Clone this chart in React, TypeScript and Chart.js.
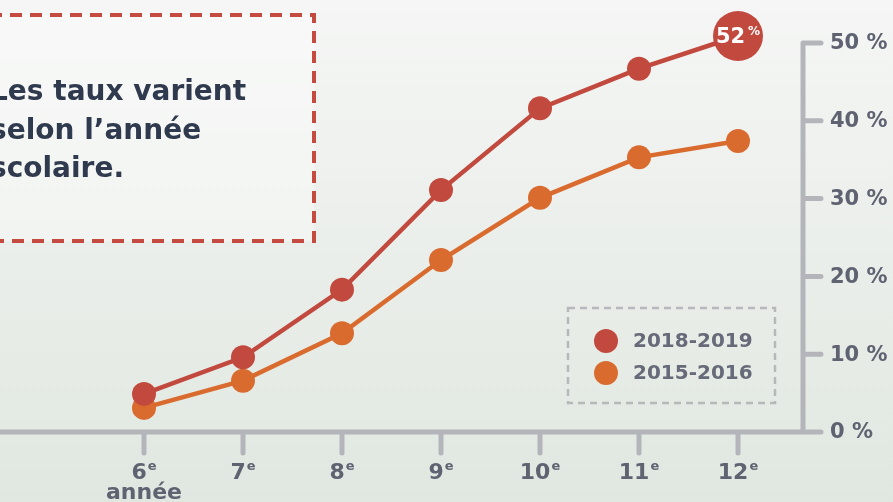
import React, { useEffect, useRef } from "react";
import { Chart, registerables } from "chart.js";

Chart.register(...registerables);

const grades = ["6", "7", "8", "9", "10", "11", "12"];
const gradeSuffix = "e";
const firstGradeNote = "année";
const series2018 = [4.9, 9.6, 18.3, 31.1, 41.6, 46.7, 50.9];
const series2015 = [3.1, 6.6, 12.7, 22.1, 30.1, 35.3, 37.4];
const seriesLabels = ["2018-2019", "2015-2016"];
const seriesColors = ["#c2493e", "#d96b2f"];
const yTicks = [0, 10, 20, 30, 40, 50];
const highlightLabel = "52";
const headline = ["Les taux varient", "selon l\u2019année", "scolaire."];

const FONT = '"DejaVu Sans", sans-serif';

const decorations = {
  id: "decorations",
  beforeDraw(chart: any) {
    const { ctx, width, height } = chart;
    ctx.save();
    const g = ctx.createLinearGradient(0, 0, 0, height);
    g.addColorStop(0, "#f5f6f5");
    g.addColorStop(1, "#e0e7e0");
    ctx.fillStyle = g;
    ctx.fillRect(0, 0, width, height);

    // callout box
    ctx.fillStyle = "rgba(255,255,255,0.35)";
    ctx.fillRect(-10, 15, 324, 226);
    ctx.strokeStyle = "#c54a3f";
    ctx.lineWidth = 4;
    ctx.setLineDash([12, 8]);
    ctx.strokeRect(-10, 15, 324, 226);
    ctx.setLineDash([]);
    ctx.fillStyle = "#2f3a4e";
    ctx.font = `bold 28px ${FONT}`;
    ctx.textAlign = "left";
    ctx.textBaseline = "alphabetic";
    headline.forEach((t, i) => ctx.fillText(t, -10, 100 + i * 38.5));

    // legend box
    ctx.strokeStyle = "#b6b8bb";
    ctx.lineWidth = 2.5;
    ctx.setLineDash([7, 5]);
    ctx.strokeRect(568, 308, 207, 95);
    ctx.setLineDash([]);
    seriesLabels.forEach((lab, i) => {
      const cy = 341 + i * 32;
      ctx.fillStyle = seriesColors[i];
      ctx.beginPath();
      ctx.arc(606, cy, 12, 0, Math.PI * 2);
      ctx.fill();
      ctx.fillStyle = "#676a78";
      ctx.font = `bold 20px ${FONT}`;
      ctx.textBaseline = "middle";
      ctx.fillText(lab, 633, cy + 1);
    });
    ctx.restore();
  },
  beforeDatasetsDraw(chart: any) {
    const { ctx } = chart;
    const xs = chart.scales.x;
    const ys = chart.scales.y;
    const y0 = ys.getPixelForValue(0);
    const axisX = xs.right + 65;
    ctx.save();
    ctx.strokeStyle = "#b4b5ba";
    ctx.lineWidth = 5;
    ctx.lineCap = "round";
    ctx.beginPath();
    ctx.moveTo(-5, y0);
    ctx.lineTo(axisX + 18, y0);
    ctx.moveTo(axisX, y0);
    ctx.lineTo(axisX, ys.getPixelForValue(50));
    yTicks.forEach((v) => {
      const py = ys.getPixelForValue(v);
      ctx.moveTo(axisX, py);
      ctx.lineTo(axisX + 18, py);
    });
    grades.forEach((_, i) => {
      const px = xs.getPixelForValue(i);
      ctx.moveTo(px, y0);
      ctx.lineTo(px, y0 + 21);
    });
    ctx.stroke();

    ctx.fillStyle = "#5f6271";
    ctx.textBaseline = "middle";
    ctx.textAlign = "left";
    ctx.font = `bold 21px ${FONT}`;
    yTicks.forEach((v) => {
      ctx.fillText(`${v} %`, axisX + 27, ys.getPixelForValue(v) + 1);
    });

    ctx.textBaseline = "alphabetic";
    grades.forEach((g, i) => {
      const px = xs.getPixelForValue(i);
      ctx.font = `bold 22px ${FONT}`;
      const w1 = ctx.measureText(g).width;
      ctx.font = `bold 13px ${FONT}`;
      const w2 = ctx.measureText(gradeSuffix).width;
      const start = px - (w1 + w2 + 1) / 2;
      ctx.font = `bold 22px ${FONT}`;
      ctx.fillText(g, start, 479);
      ctx.font = `bold 13px ${FONT}`;
      ctx.fillText(gradeSuffix, start + w1 + 1, 470);
      if (i === 0) {
        ctx.font = `bold 22px ${FONT}`;
        ctx.textAlign = "center";
        ctx.fillText(firstGradeNote, px, 499);
        ctx.textAlign = "left";
      }
    });
    ctx.restore();
  },
  afterDatasetsDraw(chart: any) {
    const { ctx } = chart;
    const meta = chart.getDatasetMeta(0);
    const pt = meta.data[meta.data.length - 1];
    ctx.save();
    ctx.fillStyle = "#ffffff";
    ctx.textBaseline = "alphabetic";
    ctx.font = `bold 21px ${FONT}`;
    const w1 = ctx.measureText(highlightLabel).width;
    ctx.font = `bold 12px ${FONT}`;
    const w2 = ctx.measureText("%").width;
    const start = pt.x - (w1 + w2 + 3) / 2;
    ctx.font = `bold 21px ${FONT}`;
    ctx.fillText(highlightLabel, start, pt.y + 7);
    ctx.font = `bold 12px ${FONT}`;
    ctx.fillText("%", start + w1 + 3, pt.y - 1);
    ctx.restore();
  },
};

export default function App() {
  const ref = useRef<HTMLCanvasElement>(null);
  useEffect(() => {
    if (!ref.current) return;
    const radii = grades.map((_, i) => (i === grades.length - 1 ? 25 : 12));
    const chart = new Chart(ref.current, {
      type: "line",
      data: {
        labels: grades,
        datasets: [
          {
            label: seriesLabels[0],
            data: series2018,
            borderColor: seriesColors[0],
            backgroundColor: seriesColors[0],
            pointBackgroundColor: seriesColors[0],
            borderWidth: 4.5,
            pointRadius: radii,
            pointHoverRadius: radii,
            pointBorderWidth: 0,
            tension: 0,
            clip: false as any,
          },
          {
            label: seriesLabels[1],
            data: series2015,
            borderColor: seriesColors[1],
            backgroundColor: seriesColors[1],
            pointBackgroundColor: seriesColors[1],
            borderWidth: 4.5,
            pointRadius: 12,
            pointHoverRadius: 12,
            pointBorderWidth: 0,
            tension: 0,
            clip: false as any,
          },
        ],
      },
      options: {
        responsive: false,
        animation: false,
        devicePixelRatio: 1,
        layout: { padding: { left: 144, right: 155, top: 43, bottom: 70 } },
        scales: {
          x: { type: "category", display: false, offset: false },
          y: { type: "linear", display: false, min: 0, max: 50 },
        },
        plugins: { legend: { display: false }, tooltip: { enabled: false } },
        events: [],
      },
      plugins: [decorations],
    });
    return () => chart.destroy();
  }, []);
  return (
    <div style={{ position: "fixed", left: 0, top: 0, width: 893, height: 502 }}>
      <canvas ref={ref} width={893} height={502} style={{ display: "block" }} />
    </div>
  );
}
